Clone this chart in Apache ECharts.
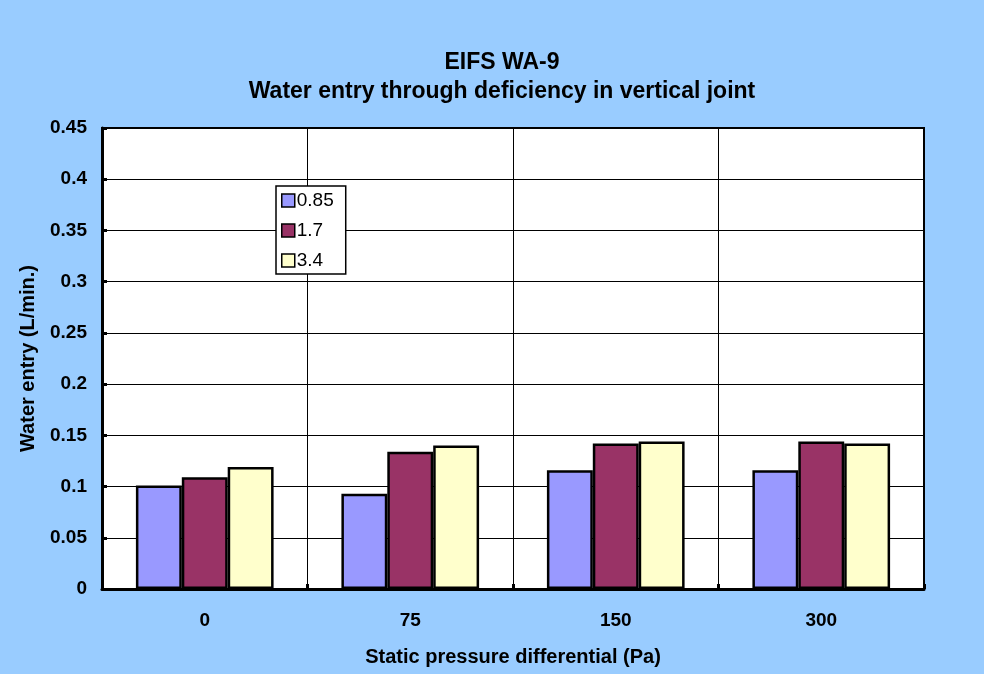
<!DOCTYPE html>
<html><head><meta charset="utf-8">
<script src="https://cdn.jsdelivr.net/npm/echarts@6/dist/echarts.min.js"></script>
<style>html,body{margin:0;padding:0;background:#99CCFF;}#c{width:984px;height:674px;}</style>
</head><body><div id="c"></div>
<script>
const categories = ['0', '75', '150', '300'];
const seriesNames = ['0.85', '1.7', '3.4'];
const s085 = [0.101, 0.093, 0.116, 0.116];
const s17 = [0.109, 0.134, 0.142, 0.144];
const s34 = [0.119, 0.140, 0.144, 0.142];
const colors = ['#9999FF', '#993366', '#FFFFCC'];
const F = '"Liberation Sans", Arial, sans-serif';
const chart = echarts.init(document.getElementById('c'));
const mk = (name, data, i) => ({
  name, type: 'bar', data,
  barGap: '0%', barCategoryGap: '33%',
  itemStyle: { color: colors[i], borderColor: '#000', borderWidth: 2.5 }
});
chart.setOption({
  backgroundColor: '#99CCFF',
  animation: false,
  title: {
    text: 'EIFS WA-9\nWater entry through deficiency in vertical joint',
    left: 497, textAlign: 'center', top: 43,
    textStyle: { fontFamily: F, fontSize: 23, fontWeight: 'bold', color: '#000', lineHeight: 29 }
  },
  legend: {
    orient: 'vertical', left: 276, top: 186,
    itemWidth: 13, itemHeight: 13, itemGap: 11,
    backgroundColor: '#fff', borderColor: '#000', borderWidth: 1.5,
    padding: [5, 12, 4, 5],
    textStyle: { fontFamily: F, fontSize: 19, color: '#000', padding: [0, 0, 0, -3] },
    data: seriesNames.map(n => ({ name: n, icon: 'rect', itemStyle: { borderColor: '#000', borderWidth: 1.5 } }))
  },
  grid: { left: 102, right: 60, top: 128, bottom: 85, show: true, backgroundColor: '#fff', borderColor: '#000', borderWidth: 2 },
  xAxis: {
    type: 'category', data: categories,
    name: 'Static pressure differential (Pa)', nameLocation: 'middle', nameGap: 58,
    nameTextStyle: { fontFamily: F, fontSize: 20, fontWeight: 'bold', color: '#000' },
    axisLine: { lineStyle: { color: '#000', width: 3 } },
    axisTick: { show: true, inside: true, length: 5, lineStyle: { color: '#000', width: 3 } },
    axisLabel: { fontFamily: F, fontSize: 19, fontWeight: 'bold', color: '#000', margin: 22 },
    splitLine: { show: true, lineStyle: { color: '#000', width: 1 } }
  },
  yAxis: {
    type: 'value', min: 0, max: 0.45, interval: 0.05,
    name: 'Water entry (L/min.)', nameLocation: 'middle', nameGap: 64, nameRotate: 90,
    nameTextStyle: { fontFamily: F, fontSize: 20, fontWeight: 'bold', color: '#000' },
    axisLine: { show: true, lineStyle: { color: '#000', width: 3 } },
    axisTick: { show: true, inside: true, length: 5, lineStyle: { color: '#000', width: 3 } },
    axisLabel: { fontFamily: F, fontSize: 19, fontWeight: 'bold', color: '#000', margin: 15,
      formatter: v => String(Math.round(v * 100) / 100) },
    splitLine: { show: true, lineStyle: { color: '#000', width: 1 } }
  },
  series: [mk(seriesNames[0], s085, 0), mk(seriesNames[1], s17, 1), mk(seriesNames[2], s34, 2)]
});
</script></body></html>
